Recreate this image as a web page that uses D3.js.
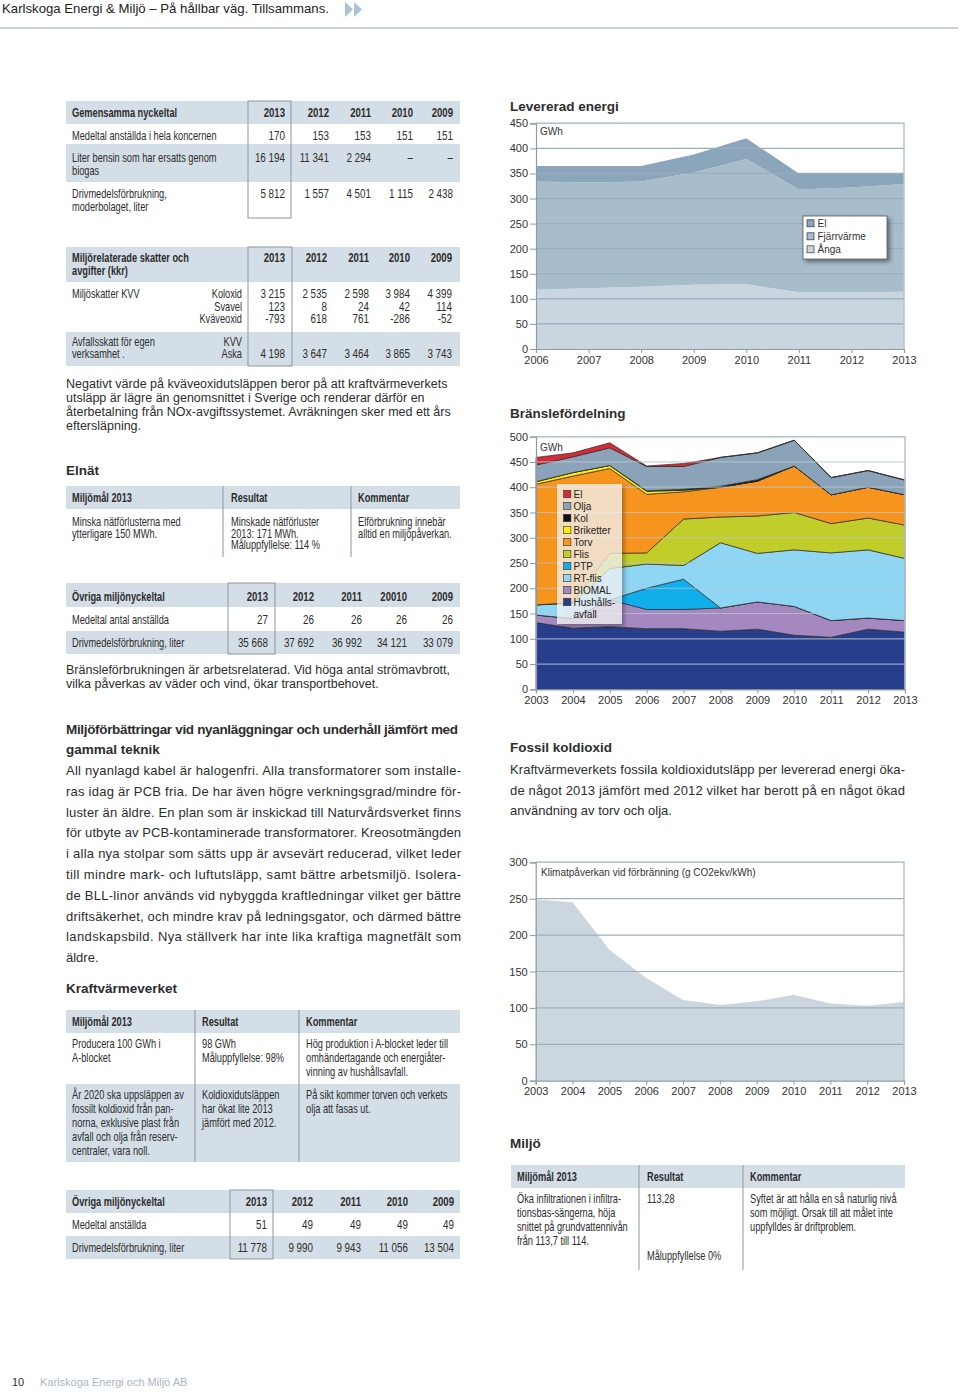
<!DOCTYPE html>
<html><head><meta charset="utf-8">
<script src="https://cdn.jsdelivr.net/npm/d3@7"></script>
<style>
html,body{margin:0;padding:0;background:#fff;}
svg{display:block;}
</style></head><body><svg id="c" width="960" height="1392"></svg>
<script>
// ---------- DATA ----------
const levYears = [2006,2007,2008,2009,2010,2011,2012,2013];
const levAnga = [118,121,124,128,129,113,113,114];
const levFjarrvarme = [216,211,210,224,250,205,209,215];
const levEl = [31,33,31,36,41,32,28,21];
const levKeys = ["Ånga","Fjärrvärme","El"];
const levTicks = [0,50,100,150,200,250,300,350,400,450];

const branYears = [2003,2004,2005,2006,2007,2008,2009,2010,2011,2012,2013];
const branHushall = [132,121,124,120,120,115,119,107,103,119,113];
const branBiomal = [15,19,53,38,38,46,54,57,33,22,23];
const branPTP = [0,0,0,42,60,0,0,0,0,0,0];
const branRTflis = [20,30,62,48,27,129,96,112,134,135,123];
const branFlis = [0,2,30,22,92,51,74,74,58,63,66];
const branTorv = [239,250,168,116,54,59,69,92,57,61,60];
const branBriketter = [5,7,6,6,3,0,0,0,0,0,0];
const branKol = [0,0,0,1,2,2,3,0,0,0,0];
const branOlja = [33,31,35,48,45,57,53,51,34,33,29];
const branEl = [15,8,10,1,6,0,0,0,0,0,0];
const branKeys = ["Hushållsavfall","BIOMAL","PTP","RT-flis","Flis","Torv","Briketter","Kol","Olja","El"];
const branTicks = [0,50,100,150,200,250,300,350,400,450,500];

const klimYears = [2003,2004,2005,2006,2007,2008,2009,2010,2011,2012,2013];
const klimValues = [249,245,180,141,111,104,109,118,106,103,108];
const klimTicks = [0,50,100,150,200,250,300];

const tabYears = ["2013","2012","2011","2010","2009"];
const tabYearsElnat = ["2013","2012","2011","20010","2009"];
const gemAnstallda = ["170","153","153","151","151"];
const gemBensin = ["16 194","11 341","2 294","–","–"];
const gemDrivmedel = ["5 812","1 557","4 501","1 115","2 438"];
const skattKoloxid = ["3 215","2 535","2 598","3 984","4 399"];
const skattSvavel = ["123","8","24","42","114"];
const skattKvaveoxid = ["-793","618","761","-286","-52"];
const skattAska = ["4 198","3 647","3 464","3 865","3 743"];
const elnatAnstallda = ["27","26","26","26","26"];
const elnatDrivmedel = ["35 668","37 692","36 992","34 121","33 079"];
const kvvAnstallda = ["51","49","49","49","49"];
const kvvDrivmedel = ["11 778","9 990","9 943","11 056","13 504"];

// ---------- HELPERS ----------
const svg = d3.select("#c");
const TXT = "#2d2d2d";
const SANS = "'Liberation Sans',Arial,sans-serif";
const HDR = "#d4dee6";
const BOX = "#8d979f";
const SX = 0.77;

function t(x,y,s,o={}){
  const el = svg.append("text").attr("x",x).attr("y",y).text(s)
    .attr("font-family",o.ff||SANS).attr("font-size",o.fs||12)
    .attr("fill",o.fill||TXT).attr("font-weight",o.fw||"normal")
    .attr("text-anchor",o.anchor||"start");
  if(o.len){ el.attr("textLength",o.len).attr("lengthAdjust","spacing"); }
  return el;
}
// condensed table text (horizontal scale)
function n(x,y,s,o={}){
  const g = svg.append("g").attr("transform",`translate(${x},${y}) scale(${o.sx||SX},1)`);
  g.append("text").attr("x",0).attr("y",0).text(s)
    .attr("font-family",SANS).attr("font-size",o.fs||12)
    .attr("fill",o.fill||TXT).attr("font-weight",o.fw||"normal")
    .attr("text-anchor",o.anchor||"start");
  return g;
}
function rect(x,y,w,h,fill,stroke){
  return svg.append("rect").attr("x",x).attr("y",y).attr("width",w).attr("height",h)
    .attr("fill",fill||"none").attr("stroke",stroke||"none");
}
function vline(x,y1,y2){
  svg.append("line").attr("x1",x).attr("x2",x).attr("y1",y1).attr("y2",y2).attr("stroke",BOX);
}
function numRow(xs,y,vals,bold){
  vals.forEach((v,i)=>n(xs[i],y,v,{anchor:"end",fw:bold?"bold":"normal",sx:bold?0.8:0.82}));
}
function para(x,y,lines,lh,width,fs){
  lines.forEach((l,i)=>{
    const last = i===lines.length-1;
    t(x,y+i*lh,l,{fs:fs,len:(!last&&width)?width:null});
  });
}

// ---------- HEADER ----------
t(2,13,"Karlskoga Energi & Miljö – På hållbar väg. Tillsammans.",{fs:13.2,fill:"#222"});
svg.append("path").attr("d","M345,2 L353,9.5 L345,17 Z M354,2 L362,9.5 L354,17 Z").attr("fill","#a9c2d8");
svg.append("line").attr("x1",0).attr("x2",958).attr("y1",28).attr("y2",28).attr("stroke","#cdd4d9").attr("stroke-width",2);

// ---------- TABLE 1 ----------
const c1 = [285,329,371,413,453];
rect(66,101,394,23,HDR);
rect(66,144,394,38,HDR);
n(72,117,"Gemensamma nyckeltal",{fw:"bold"});
numRow(c1,117,tabYears,true);
n(72,140,"Medeltal anställda i hela koncernen");
numRow(c1,140,gemAnstallda);
n(72,162,"Liter bensin som har ersatts genom");
n(72,175,"biogas");
numRow(c1,162,gemBensin);
n(72,198,"Drivmedelsförbrukning,");
n(72,211,"moderbolaget, liter");
numRow(c1,198,gemDrivmedel);
rect(248,101,43,117,"none",BOX);

// ---------- TABLE 2 ----------
const c2 = [285,327,369,410,452];
rect(66,247,394,35,HDR);
rect(66,332,394,34,HDR);
n(72,262,"Miljörelaterade skatter och",{fw:"bold"});
n(72,275,"avgifter (kkr)",{fw:"bold"});
numRow(c2,262,tabYears,true);
n(72,298,"Miljöskatter KVV");
n(242,298,"Koloxid",{anchor:"end"});
n(242,311,"Svavel",{anchor:"end"});
n(242,323,"Kväveoxid",{anchor:"end"});
numRow(c2,298,skattKoloxid);
numRow(c2,311,skattSvavel);
numRow(c2,323,skattKvaveoxid);
n(72,346,"Avfallsskatt för egen");
n(72,358,"verksamhet .");
n(242,346,"KVV",{anchor:"end"});
n(242,358,"Aska",{anchor:"end"});
numRow(c2,358,skattAska);
rect(248,247,44,119,"none",BOX);

para(66,388,["Negativt värde på kväveoxidutsläppen beror på att kraftvärmeverkets",
 "utsläpp är lägre än genomsnittet i Sverige och renderar därför en",
 "återbetalning från NOx-avgiftssystemet. Avräkningen sker med ett års",
 "eftersläpning."],14,null,12.5);

t(66,475,"Elnät",{fs:13.5,fw:"bold"});

// ---------- TABLE 3 ----------
rect(66,486,394,23,HDR);
vline(223,486,557); vline(351,486,557);
n(72,502,"Miljömål 2013",{fw:"bold"});
n(231,502,"Resultat",{fw:"bold"});
n(358,502,"Kommentar",{fw:"bold"});
[["Minska nätförlusterna med","ytterligare 150 MWh."],
 ["Minskade nätförluster","2013: 171 MWh.","Måluppfyllelse: 114 %"],
 ["Elförbrukning innebär","alltid en miljöpåverkan."]].forEach((ls,ci)=>{
  const xx=[72,231,358][ci];
  ls.forEach((l,i)=>n(xx,526+i*11.5,l));
});

// ---------- TABLE 4 ----------
const c4 = [268,314,362,407,453];
rect(66,583,394,24,HDR);
rect(66,631,394,23,HDR);
n(72,601,"Övriga miljönyckeltal",{fw:"bold"});
numRow(c4,601,tabYearsElnat,true);
n(72,624,"Medeltal antal anställda");
numRow(c4,624,elnatAnstallda);
n(72,647,"Drivmedelsförbrukning, liter");
numRow(c4,647,elnatDrivmedel);
rect(228,583,47,71,"none",BOX);

para(66,674,["Bränsleförbrukningen är arbetsrelaterad. Vid höga antal strömavbrott,",
 "vilka påverkas av väder och vind, ökar transportbehovet."],14,null,12.5);

t(66,734,"Miljöförbättringar vid nyanläggningar och underhåll jämfört med",{fs:13.5,fw:"bold",len:392});
t(66,754,"gammal teknik",{fs:13.5,fw:"bold"});
para(66,775,["All nyanlagd kabel är halogenfri. Alla transformatorer som installe-",
 "ras idag är PCB fria. De har även högre verkningsgrad/mindre för-",
 "luster än äldre. En plan som är inskickad till Naturvårdsverket finns",
 "för utbyte av PCB-kontaminerade transformatorer. Kreosotmängden",
 "i alla nya stolpar som sätts upp är avsevärt reducerad, vilket leder",
 "till mindre mark- och luftutsläpp, samt bättre arbetsmiljö. Isolera-",
 "de BLL-linor används vid nybyggda kraftledningar vilket ger bättre",
 "driftsäkerhet, och mindre krav på ledningsgator, och därmed bättre",
 "landskapsbild. Nya ställverk har inte lika kraftiga magnetfält som",
 "äldre."],20.8,395,13);

t(66,993,"Kraftvärmeverket",{fs:13.5,fw:"bold"});

// ---------- TABLE 5 ----------
rect(66,1010,394,23,HDR);
rect(66,1084,394,78,HDR);
vline(195,1010,1162); vline(299,1010,1162);
n(72,1026,"Miljömål 2013",{fw:"bold"});
n(202,1026,"Resultat",{fw:"bold"});
n(306,1026,"Kommentar",{fw:"bold"});
[[72,["Producera 100 GWh i","A-blocket"]],[202,["98 GWh","Måluppfyllelse: 98%"]],
 [306,["Hög produktion i A-blocket leder till","omhändertagande och energiåter-","vinning av hushållsavfall."]]]
 .forEach(([xx,ls])=>ls.forEach((l,i)=>n(xx,1048+i*14,l)));
[[72,["År 2020 ska uppsläppen av","fossilt koldioxid från pan-","norna, exklusive plast från","avfall och olja från reserv-","centraler, vara noll."]],
 [202,["Koldioxidutsläppen","har ökat lite 2013","jämfört med 2012."]],
 [306,["På sikt kommer torven och verkets","olja att fasas ut."]]]
 .forEach(([xx,ls])=>ls.forEach((l,i)=>n(xx,1099+i*14,l)));

// ---------- TABLE 6 ----------
const c6 = [267,313,361,408,454];
rect(66,1190,394,23,HDR);
rect(66,1236,394,23,HDR);
n(72,1206,"Övriga miljönyckeltal",{fw:"bold"});
numRow(c6,1206,tabYears,true);
n(72,1229,"Medeltal anställda");
numRow(c6,1229,kvvAnstallda);
n(72,1252,"Drivmedelsförbrukning, liter");
numRow(c6,1252,kvvDrivmedel);
rect(230,1190,43,69,"none",BOX);

// ---------- RIGHT COLUMN TEXT ----------
t(510,752,"Fossil koldioxid",{fs:13.5,fw:"bold"});
para(510,774,["Kraftvärmeverkets fossila koldioxidutsläpp per levererad energi öka-",
 "de något 2013 jämfört med 2012 vilket har berott på en något ökad",
 "användning av torv och olja."],20.5,395,13);
t(510,1148,"Miljö",{fs:13.5,fw:"bold"});

// ---------- TABLE 7 ----------
rect(511,1165,394,23,HDR);
vline(639,1165,1270); vline(743,1165,1270);
n(517,1181,"Miljömål 2013",{fw:"bold"});
n(647,1181,"Resultat",{fw:"bold"});
n(750,1181,"Kommentar",{fw:"bold"});
["Öka infiltrationen i infiltra-","tionsbas-sängerna, höja","snittet på grundvattennivån","från 113,7 till 114."]
 .forEach((l,i)=>n(517,1203+i*14,l));
n(647,1203,"113,28");
n(647,1260,"Måluppfyllelse 0%");
["Syftet är att hålla en så naturlig nivå","som möjligt. Orsak till att målet inte","uppfylldes är driftproblem."]
 .forEach((l,i)=>n(750,1203+i*14,l));

// ---------- FOOTER ----------
t(12,1386,"10",{fs:11,fill:"#333"});
t(40,1386,"Karlskoga Energi och Miljö AB",{fs:11,fill:"#a8b6c2"});

// ---------- CHART HELPER ----------
const defs = svg.append("defs");
const f = defs.append("filter").attr("id","sh").attr("x","-20%").attr("y","-20%").attr("width","150%").attr("height","150%");
f.append("feDropShadow").attr("dx",2.5).attr("dy",2.5).attr("stdDeviation",2).attr("flood-color","#000").attr("flood-opacity",0.45);

function areaChart(c){
  const x = d3.scaleLinear().domain(d3.extent(c.years)).range([c.x0,c.x1]);
  const y = d3.scaleLinear().domain([0,c.yMax]).range([c.yb,c.yt]);
  const g = svg.append("g");
  g.append("rect").attr("x",c.x0).attr("y",c.yt).attr("width",c.x1-c.x0).attr("height",c.yb-c.yt).attr("fill","#fff");
  const series = d3.stack().keys(c.keys)(c.rows);
  const area = d3.area().x(d=>x(d.data.year)).y0(d=>y(d[0])).y1(d=>y(d[1]));
  g.selectAll("path.a").data(series).join("path").attr("class","a")
    .attr("d",area).attr("fill",d=>c.colors[d.key])
    .attr("stroke",c.outline||"none").attr("stroke-width",c.outline?0.7:0).attr("stroke-linejoin","round");
  g.selectAll("line.g").data(c.ticks.filter(v=>v>0)).join("line").attr("class","g")
    .attr("x1",c.x0).attr("x2",c.x1).attr("y1",d=>y(d)).attr("y2",d=>y(d))
    .attr("stroke",c.grid).attr("stroke-opacity",c.gridOp||1).attr("stroke-width",1.2);
  g.append("path").attr("d",`M${c.x0},${c.yt}H${c.x1}V${c.yb}`).attr("fill","none").attr("stroke","#b7c4ce").attr("stroke-width",1.5);
  const ax = g.append("g").attr("transform",`translate(${c.x0},0)`)
    .call(d3.axisLeft(y).tickValues(c.ticks).tickSize(6).tickPadding(2).tickFormat(d3.format("d")));
  const bx = g.append("g").attr("transform",`translate(0,${c.yb})`)
    .call(d3.axisBottom(x).tickValues(c.years).tickSize(4).tickPadding(3).tickFormat(d3.format("d")));
  [ax,bx].forEach(a=>{
    a.selectAll("path.domain").attr("stroke","#8d9ba6").attr("stroke-width",1.2);
    a.selectAll(".tick line").attr("stroke","#8d9ba6");
    a.selectAll("text").attr("font-family",SANS).attr("font-size",11).attr("fill","#333");
  });
  return {x,y,g};
}

// ---------- LEVERERAD ENERGI ----------
t(510,111,"Levererad energi",{fs:13.5,fw:"bold"});
const levRows = levYears.map((yr,i)=>({year:yr,"Ånga":levAnga[i],"Fjärrvärme":levFjarrvarme[i],"El":levEl[i]}));
const levColors = {"El":"#8ba5ba","Fjärrvärme":"#a8bdcc","Ånga":"#c9d6e0"};
areaChart({x0:536,x1:904,yt:123.3,yb:349,yMax:450,years:levYears,rows:levRows,keys:levKeys,
  colors:levColors,ticks:levTicks,grid:"#98adbe"});
t(540,135,"GWh",{fs:10,fill:"#333"});
const lg1 = svg.append("g");
lg1.append("rect").attr("x",803).attr("y",216).attr("width",84).attr("height",43).attr("fill","#fff")
  .attr("stroke","#555").attr("stroke-width",0.8).attr("filter","url(#sh)");
["El","Fjärrvärme","Ånga"].forEach((k,i)=>{
  const cy = 223.3+i*13;
  lg1.append("rect").attr("x",807).attr("y",cy-3.5).attr("width",7).attr("height",7).attr("fill",levColors[k]).attr("stroke","#333").attr("stroke-width",0.7);
  lg1.append("text").attr("x",817.5).attr("y",cy+3.5).text(k).attr("font-family",SANS).attr("font-size",10).attr("fill","#333");
});

// ---------- BRÄNSLEFÖRDELNING ----------
t(510,418,"Bränslefördelning",{fs:13.5,fw:"bold"});
const branCols = [branHushall,branBiomal,branPTP,branRTflis,branFlis,branTorv,branBriketter,branKol,branOlja,branEl];
const branRows = branYears.map((yr,i)=>{const r={year:yr}; branKeys.forEach((k,j)=>r[k]=branCols[j][i]); return r;});
const branColors = {"El":"#d52b36","Olja":"#8aa3b9","Kol":"#111111","Briketter":"#ffec00","Torv":"#f7941e",
  "Flis":"#c0cd2b","PTP":"#10aeea","RT-flis":"#8fd6f4","BIOMAL":"#a688c1","Hushållsavfall":"#273e8d"};
areaChart({x0:536,x1:905,yt:436.7,yb:689.3,yMax:500,years:branYears,rows:branRows,keys:branKeys,
  colors:branColors,ticks:branTicks,grid:"#b9c6d0",gridOp:0.75,outline:"#2b2b2b"});
t(540,451,"GWh",{fs:10,fill:"#333"});
const lg2 = svg.append("g");
lg2.append("rect").attr("x",557).attr("y",484).attr("width",65).attr("height",140).attr("fill","#fff")
  .attr("fill-opacity",0.68).attr("filter","url(#sh)");
const branLegend = ["El","Olja","Kol","Briketter","Torv","Flis","PTP","RT-flis","BIOMAL","Hushållsavfall"];
const branLegendLabel = {"Hushållsavfall":"Hushålls-"};
branLegend.forEach((k,i)=>{
  const cy = 494+i*12;
  lg2.append("rect").attr("x",563.5).attr("y",cy-3.7).attr("width",7.4).attr("height",7.4).attr("fill",branColors[k]).attr("stroke","#333").attr("stroke-width",0.6);
  lg2.append("text").attr("x",573.5).attr("y",cy+3.6).text(branLegendLabel[k]||k).attr("font-family",SANS).attr("font-size",10).attr("fill","#222");
});
lg2.append("text").attr("x",573.5).attr("y",617.6).text("avfall").attr("font-family",SANS).attr("font-size",10).attr("fill","#222");

// ---------- KLIMAT ----------
const klimRows = klimYears.map((yr,i)=>({year:yr,"Klimat":klimValues[i]}));
areaChart({x0:535.7,x1:904,yt:862.3,yb:1080.7,yMax:300,years:klimYears,rows:klimRows,keys:["Klimat"],
  colors:{"Klimat":"#cbd6df"},ticks:klimTicks,grid:"#9fb0bd"});
t(541,876,"Klimatpåverkan vid förbränning (g CO2ekv/kWh)",{fs:10,fill:"#333"});
</script></body></html>
